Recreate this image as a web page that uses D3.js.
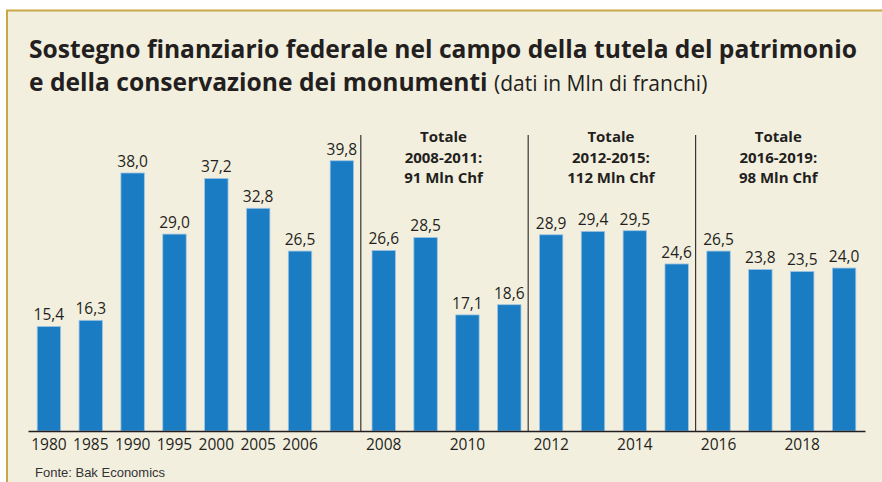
<!DOCTYPE html>
<html>
<head>
<meta charset="utf-8">
<script src="https://cdn.jsdelivr.net/npm/d3@7"></script>
<style>
  body { margin: 0; background: #fff; }
  text { font-family: "Open Sans", sans-serif; fill: #231f20; }
</style>
</head>
<body>
<div id="chart"></div>
<script>
// Data
const years = ["1980","1985","1990","1995","2000","2005","2006","2007","2008","2009",
               "2010","2011","2012","2013","2014","2015","2016","2017","2018","2019"];
const values = [15.4, 16.3, 38.0, 29.0, 37.2, 32.8, 26.5, 39.8, 26.6, 28.5,
                17.1, 18.6, 28.9, 29.4, 29.5, 24.6, 26.5, 23.8, 23.5, 24.0];
const tickLabels = ["1980","1985","1990","1995","2000","2005","2006",
                    "2008","2010","2012","2014","2016","2018"];
const groups = [
    { from: "2008", to: "2011", lines: ["Totale", "2008-2011:", "91 Mln Chf"] },
    { from: "2012", to: "2015", lines: ["Totale", "2012-2015:", "112 Mln Chf"] },
    { from: "2016", to: "2019", lines: ["Totale", "2016-2019:", "98 Mln Chf"] }
];

const W = 882, H = 482;
const svg = d3.select("#chart").append("svg")
    .attr("width", W)
    .attr("height", H);

// Panel background and border
svg.append("rect")
   .attr("x", 6).attr("y", 10)
   .attr("width", W - 6).attr("height", H - 10)
   .attr("fill", "#f3efdf");
svg.append("line")
   .attr("x1", 6).attr("x2", W).attr("y1", 10.5).attr("y2", 10.5)
   .attr("stroke", "#c9a648").attr("stroke-width", 2);
svg.append("line")
   .attr("x1", 7).attr("x2", 7).attr("y1", 10).attr("y2", H)
   .attr("stroke", "#c9a648").attr("stroke-width", 2);

// Title
svg.append("text")
   .attr("x", 29).attr("y", 58)
   .attr("font-size", 24.6).attr("font-weight", "bold")
   .text("Sostegno finanziario federale nel campo della tutela del patrimonio");
const t2 = svg.append("text")
   .attr("x", 29).attr("y", 91)
   .attr("font-size", 24.6).attr("font-weight", "bold");
t2.append("tspan").text("e della conservazione dei monumenti ");
t2.append("tspan").attr("font-size", 21).attr("font-weight", "normal")
  .text("(dati in Mln di franchi)");

// Scales
const x = d3.scaleBand()
            .domain(years)
            .range([28, 865])
            .paddingInner(0.44)
            .paddingOuter(0.22);
const y = d3.scaleLinear()
            .domain([0, 40])
            .range([431, 431 - 40 * 6.79]);

// Separators between groups + group totals
groups.forEach(g => {
    const i = years.indexOf(g.from);
    const prev = years[i - 1];
    const sx = (x(prev) + x.bandwidth() + x(g.from)) / 2 - 2;
    svg.append("line")
       .attr("x1", sx).attr("x2", sx)
       .attr("y1", 135).attr("y2", y(0))
       .attr("stroke", "#3a3635").attr("stroke-width", 1.2);

    const cx = (x(g.from) + x(g.to) + x.bandwidth()) / 2 - 3;
    g.lines.forEach((l, k) => {
        svg.append("text")
           .attr("x", cx).attr("y", 142 + k * 20.5)
           .attr("text-anchor", "middle")
           .attr("font-size", 15)
           .attr("font-weight", "bold")
           .text(l);
    });
});

// Bars
svg.selectAll(".bar")
   .data(values)
   .enter()
   .append("rect")
   .attr("class", "bar")
   .attr("x", (d, i) => x(years[i]))
   .attr("y", d => y(d))
   .attr("width", x.bandwidth())
   .attr("height", d => y(0) - y(d))
   .attr("fill", "#1a7cc2")
   .attr("stroke", "#9fc6e4")
   .attr("stroke-width", 0.8);

// Value labels
const fmt = d => d3.format(".1f")(d).replace(".", ",");
svg.selectAll(".val")
   .data(values)
   .enter()
   .append("text")
   .attr("class", "val")
   .attr("x", (d, i) => x(years[i]) + x.bandwidth() / 2)
   .attr("y", d => y(d) - 6)
   .attr("text-anchor", "middle")
   .attr("font-size", 15.5)
   .text(fmt);

// X axis
const xAxis = svg.append("g")
   .attr("transform", `translate(0,${y(0)})`)
   .call(d3.axisBottom(x)
           .tickSize(0)
           .tickPadding(8)
           .tickFormat(d => tickLabels.includes(d) ? d : ""));
xAxis.select(".domain").attr("stroke", "#231f20").attr("stroke-width", 1.5);
xAxis.selectAll("text")
     .attr("font-size", 15.5)
     .attr("font-family", "Open Sans, sans-serif")
     .attr("fill", "#231f20");

// Source
svg.append("text")
   .attr("x", 35).attr("y", 477)
   .attr("font-size", 13)
   .style("font-family", "Liberation Sans, Arial, sans-serif")
   .style("fill", "#333")
   .text("Fonte: Bak Economics");
</script>
</body>
</html>
